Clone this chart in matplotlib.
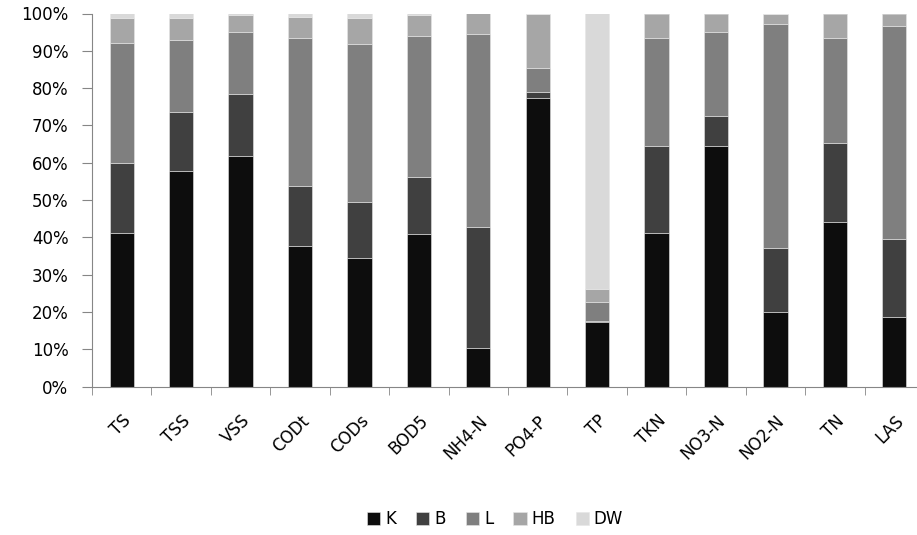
import matplotlib
matplotlib.use("Agg")
import matplotlib.pyplot as plt
import numpy as np

categories = ["TS", "TSS", "VSS", "CODt", "CODs", "BOD5", "NH4-N", "PO4-P",
              "TP", "TKN", "NO3-N", "NO2-N", "TN", "LAS"]
K = [41.3, 57.9, 61.7, 37.6, 34.4, 40.8, 10.3, 77.3, 17.4, 41.3, 64.5, 19.9, 44.0, 18.8]
B = [18.7, 15.6, 16.6, 16.1, 15.0, 15.5, 32.6, 1.6, 0.3, 23.2, 8.0, 17.2, 21.4, 20.8]
L = [32.2, 19.4, 16.7, 39.7, 42.4, 37.6, 51.7, 6.5, 4.9, 28.9, 22.5, 60.0, 28.0, 57.0]
HB = [6.5, 5.8, 4.6, 5.7, 7.1, 5.7, 5.4, 14.6, 3.7, 6.6, 5.0, 2.9, 6.6, 3.4]
DW = [1.3, 1.3, 0.4, 0.9, 1.1, 0.4, 0.0, 0.0, 73.7, 0.0, 0.0, 0.0, 0.0, 0.0]
series_names = ["K", "B", "L", "HB", "DW"]
colors = ["#0d0d0d", "#404040", "#7f7f7f", "#a6a6a6", "#d9d9d9"]

fig = plt.figure(figsize=(9.17, 5.35), dpi=100)
ax = fig.add_axes([92/917, 1 - 386.7/535, (924-92)/917, (386.7-13.5)/535])

x = np.arange(len(categories))
bottom = np.zeros(len(categories))
for name, vals, c in zip(series_names, [K, B, L, HB, DW], colors):
    v = np.array(vals)
    ax.bar(x, v, 0.41, bottom=bottom, color=c, label=name,
           edgecolor="#e6e6e6", linewidth=0.4)
    bottom += v

ax.set_xlim(-0.5, len(categories) - 0.5)
ax.set_ylim(0, 100)
ax.set_yticks(np.arange(0, 101, 10))
ax.set_yticklabels([f"{v}%" for v in range(0, 101, 10)], fontsize=12)
ax.set_xticks(x)
ax.set_xticklabels(categories, rotation=45, ha="right", rotation_mode="anchor", fontsize=12)
ax.set_xticks(np.arange(-0.5, len(categories), 1), minor=True)
ax.tick_params(axis="x", which="major", length=0, pad=18)
ax.tick_params(axis="x", which="minor", length=6, color="#868686", direction="out")
ax.tick_params(axis="y", length=7, color="#868686", direction="out", pad=10)
for s in ["top", "right"]:
    ax.spines[s].set_visible(False)
for s in ["left", "bottom"]:
    ax.spines[s].set_color("#868686")

handles, labels = ax.get_legend_handles_labels()
fig.legend(handles, labels, loc="center", bbox_to_anchor=(495/917, 1 - 519/535),
           ncol=5, frameon=False, fontsize=12, handlelength=0.8, handleheight=0.8,
           handletextpad=0.3, columnspacing=1.2)

fig.savefig("out.png", dpi=100)
